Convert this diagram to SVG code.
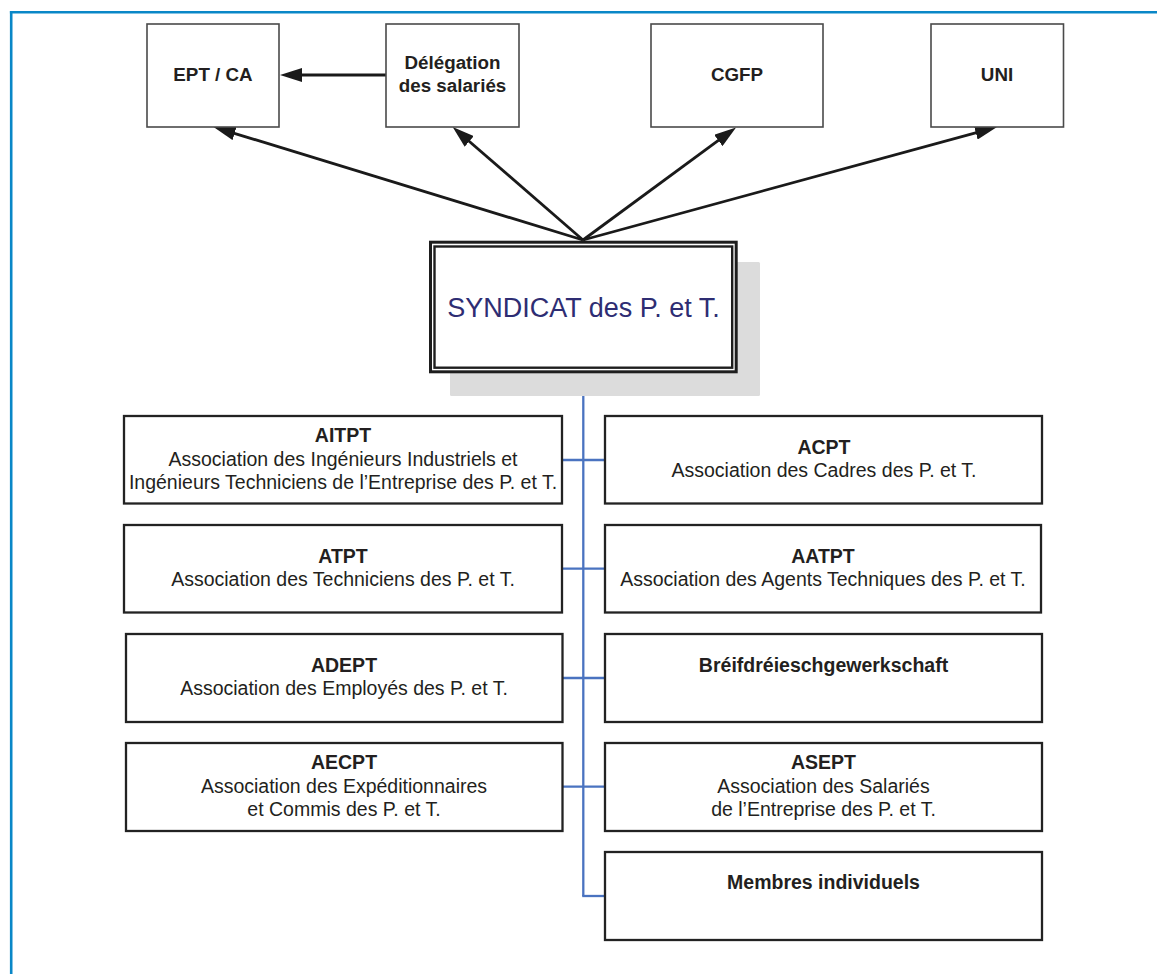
<svg xmlns="http://www.w3.org/2000/svg" width="1157" height="974" viewBox="0 0 1157 974">
<style>
  .frame{stroke:#0a87c7;stroke-width:2.6;fill:none}
  .topbox{fill:#fff;stroke:#4a4a4a;stroke-width:1.6}
  .box{fill:#fff;stroke:#222;stroke-width:2.3}
  .t{font-family:"Liberation Sans",Arial,sans-serif;fill:#231f20;text-anchor:middle}
  .b{font-weight:bold}
  .top{font-size:18.8px}
  .s{font-size:19.5px}
  .arrow{stroke:#1a1a1a;stroke-width:2.8;fill:none}
  .blue{stroke:#4a73c0;stroke-width:2.3;fill:none}
</style>
<defs>
  <marker id="ah" markerUnits="userSpaceOnUse" markerWidth="22" markerHeight="14" refX="14" refY="7" orient="auto">
    <path d="M0,0 L22,7 L0,14 z" fill="#1a1a1a"/>
  </marker>
</defs>
<rect width="1157" height="974" fill="#fff"/>
<g id="frame">
  <line class="frame" x1="9.9" y1="12.3" x2="1157" y2="12.3"/>
  <line class="frame" x1="11.2" y1="11" x2="11.2" y2="974"/>
</g>
<g id="connectors">
  <line class="arrow" x1="386" y1="75" x2="288" y2="75" marker-end="url(#ah)"/>
  <line class="arrow" x1="583" y1="240" x2="221.2" y2="129.3" marker-end="url(#ah)"/>
  <line class="arrow" x1="583" y1="240" x2="458.7" y2="132.2" marker-end="url(#ah)"/>
  <line class="arrow" x1="583" y1="240" x2="729.6" y2="132.2" marker-end="url(#ah)"/>
  <line class="arrow" x1="583" y1="240" x2="989.3" y2="129.1" marker-end="url(#ah)"/>
  <line class="blue" x1="583.3" y1="373" x2="583.3" y2="896"/>
  <line class="blue" x1="562" y1="460" x2="605" y2="460"/>
  <line class="blue" x1="562" y1="568.7" x2="605" y2="568.7"/>
  <line class="blue" x1="562" y1="678" x2="605" y2="678"/>
  <line class="blue" x1="562" y1="786.7" x2="605" y2="786.7"/>
  <line class="blue" x1="582.2" y1="896" x2="605" y2="896"/>
</g>
<g id="ept">
  <rect class="topbox" x="147" y="24" width="132" height="103"/>
  <text class="t b top" x="213" y="81">EPT / CA</text>
</g>
<g id="delegation">
  <rect class="topbox" x="386" y="24" width="133" height="103"/>
  <text class="t b top" x="452.5" y="69.3">Délégation</text>
  <text class="t b top" x="452.5" y="92.3">des salariés</text>
</g>
<g id="cgfp">
  <rect class="topbox" x="651" y="24" width="172" height="103"/>
  <text class="t b top" x="737" y="81">CGFP</text>
</g>
<g id="uni">
  <rect class="topbox" x="931" y="24" width="132.5" height="103"/>
  <text class="t b top" x="997" y="81">UNI</text>
</g>
<g id="syndicat">
  <rect x="450" y="262" width="310" height="134" rx="1.5" fill="#dcdcdc"/>
  <rect x="430.5" y="242.2" width="305.7" height="129.6" fill="#fff" stroke="#1e1e1e" stroke-width="3"/>
  <rect x="434.5" y="246.5" width="297.7" height="121.2" fill="none" stroke="#1e1e1e" stroke-width="2.4"/>
  <text class="t" x="583.5" y="317.3" style="font-size:27px;fill:#2e2d73">SYNDICAT des P. et T.</text>
</g>
<g id="aitpt">
  <rect class="box" x="124" y="416" width="438" height="87.5"/>
  <text class="t b s" x="343" y="442.3">AITPT</text>
  <text class="t s" x="343" y="466">Association des Ingénieurs Industriels et</text>
  <text class="t s" x="343" y="489.3">Ingénieurs Techniciens de l’Entreprise des P. et T.</text>
</g>
<g id="atpt">
  <rect class="box" x="124" y="525" width="438" height="87.5"/>
  <text class="t b s" x="343" y="562.7">ATPT</text>
  <text class="t s" x="343" y="585.7">Association des Techniciens des P. et T.</text>
</g>
<g id="adept">
  <rect class="box" x="126" y="634" width="436.5" height="88"/>
  <text class="t b s" x="344" y="671.7">ADEPT</text>
  <text class="t s" x="344" y="695">Association des Employés des P. et T.</text>
</g>
<g id="aecpt">
  <rect class="box" x="126" y="743" width="436.5" height="88"/>
  <text class="t b s" x="344" y="769">AECPT</text>
  <text class="t s" x="344" y="792.7">Association des Expéditionnaires</text>
  <text class="t s" x="344" y="816">et Commis des P. et T.</text>
</g>
<g id="acpt">
  <rect class="box" x="605" y="416" width="437" height="87.5"/>
  <text class="t b s" x="824" y="454">ACPT</text>
  <text class="t s" x="824" y="476.7">Association des Cadres des P. et T.</text>
</g>
<g id="aatpt">
  <rect class="box" x="605" y="525" width="436" height="87.5"/>
  <text class="t b s" x="823" y="562.7">AATPT</text>
  <text class="t s" x="823" y="585.7">Association des Agents Techniques des P. et T.</text>
</g>
<g id="breifdreiesch">
  <rect class="box" x="605" y="634" width="437" height="88"/>
  <text class="t b s" x="823.5" y="671.7">Bréifdréieschgewerkschaft</text>
</g>
<g id="asept">
  <rect class="box" x="605" y="743" width="437" height="88"/>
  <text class="t b s" x="823.5" y="769">ASEPT</text>
  <text class="t s" x="823.5" y="792.7">Association des Salariés</text>
  <text class="t s" x="823.5" y="816">de l’Entreprise des P. et T.</text>
</g>
<g id="membres">
  <rect class="box" x="605" y="852" width="437" height="88"/>
  <text class="t b s" x="823.5" y="889.3">Membres individuels</text>
</g>
</svg>
